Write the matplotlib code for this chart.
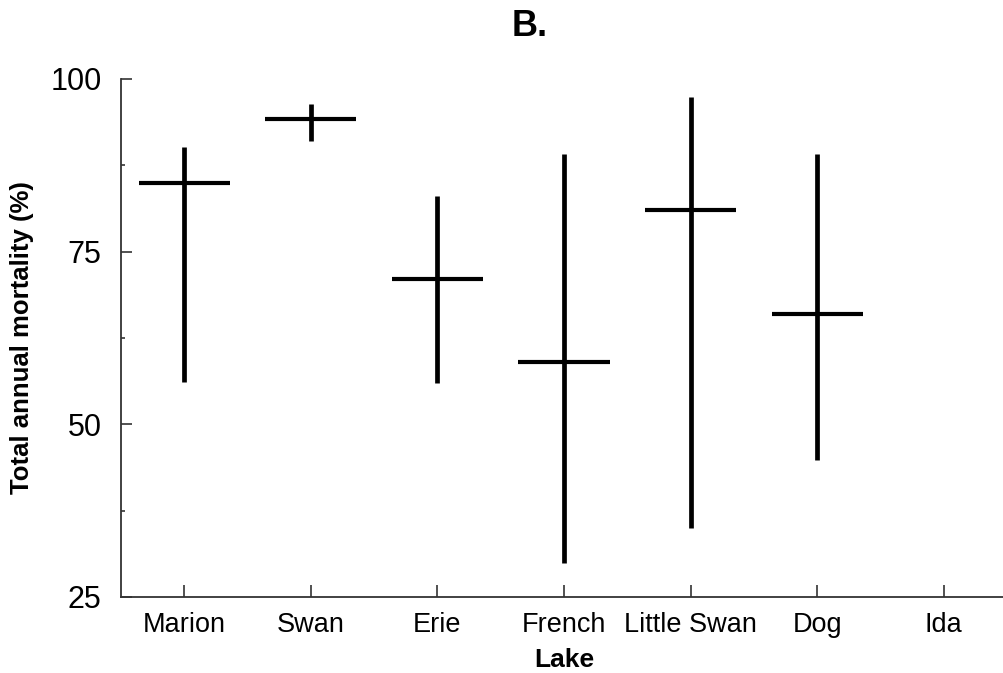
import matplotlib.pyplot as plt
import numpy as np

plt.rcParams['font.family'] = ['Liberation Sans', 'DejaVu Sans']

lakes = ['Marion', 'Swan', 'Erie', 'French', 'Little Swan', 'Dog', 'Ida']
mortality = [85, 94.2, 71, 59, 81, 66, np.nan]
upper = [90.2, 96.4, 83.1, 89.1, 97.4, 89.1, np.nan]
lower = [56.1, 91.0, 56.0, 29.9, 35.0, 44.8, np.nan]

x = np.arange(1, len(lakes) + 1)
half = 0.36

fig = plt.figure(figsize=(10.04, 6.73), dpi=100)
ax = fig.add_axes([121 / 1004, 76 / 673, 886 / 1004, 518 / 673])

ax.vlines(x, lower, upper, colors='black', linewidth=3.4)
ax.hlines(mortality, x - half, x + half, colors='black', linewidth=3.0)

ax.set_xlim(0.5, 7.5)
ax.set_ylim(25, 100)
ax.set_xticks(x)
ax.set_xticklabels(lakes)
ax.set_yticks([25, 50, 75, 100])
ax.set_yticks([37.5, 62.5, 87.5], minor=True)

for s in ['top', 'right']:
    ax.spines[s].set_visible(False)
for s in ['left', 'bottom']:
    ax.spines[s].set_linewidth(1.3)
    ax.spines[s].set_color('#333333')

ax.tick_params(axis='y', which='major', direction='in', length=8, width=1.2,
               color='#333333', labelsize=22, pad=14)
ax.tick_params(axis='y', which='minor', direction='in', length=3, width=1.2, color='#333333')
ax.tick_params(axis='x', direction='in', length=8.5, width=1.2, color='#333333',
               labelsize=19.5, pad=11)

ax.set_ylabel('Total annual mortality (%)', fontsize=18.5, fontweight='bold', labelpad=12)
ax.set_xlabel('Lake', fontsize=19, fontweight='bold', labelpad=7)

fig.text(530 / 1004, 1 - 26 / 673, 'B.', fontsize=26, fontweight='bold',
         ha='center', va='center')

fig.savefig('out.png', dpi=100)
